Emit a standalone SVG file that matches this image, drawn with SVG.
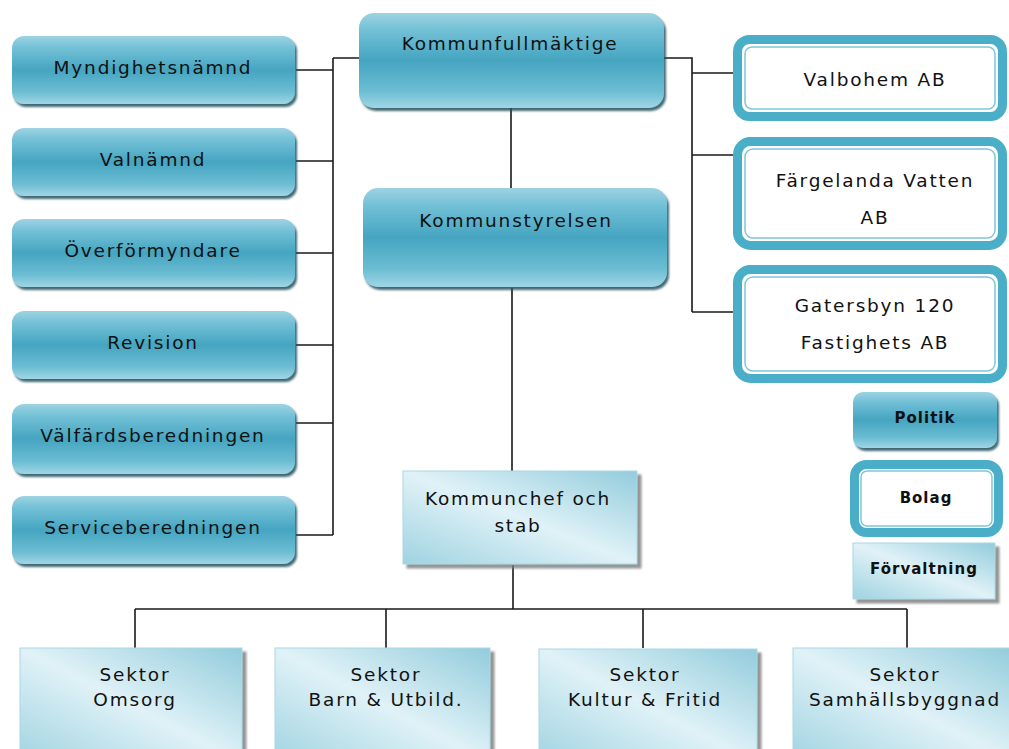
<svg xmlns="http://www.w3.org/2000/svg" width="1009" height="749" viewBox="0 0 1009 749">
<defs>
<linearGradient id="teal" x1="0" y1="0" x2="0" y2="1">
<stop offset="0" stop-color="#9dd3e2"/>
<stop offset="0.18" stop-color="#72c0d6"/>
<stop offset="0.5" stop-color="#45a5c1"/>
<stop offset="0.82" stop-color="#6cbdd3"/>
<stop offset="1" stop-color="#a0d6e5"/>
</linearGradient>
<linearGradient id="light" x1="0" y1="1" x2="1" y2="0">
<stop offset="0" stop-color="#9fd3e1"/>
<stop offset="0.5" stop-color="#e0f2f7"/>
<stop offset="1" stop-color="#92ccdc"/>
</linearGradient>
<filter id="sh" x="-10%" y="-10%" width="130%" height="130%">
<feDropShadow dx="2" dy="3" stdDeviation="1.2" flood-color="#1e4f5c" flood-opacity="0.85"/>
</filter>
<filter id="shg" x="-10%" y="-10%" width="130%" height="130%">
<feDropShadow dx="4" dy="4" stdDeviation="1" flood-color="#7a7a7a" flood-opacity="0.8"/>
</filter>
</defs>
<style>
.t{fill:url(#teal);filter:url(#sh)}
.l{fill:url(#light);stroke:#a9d8e4;stroke-width:1;filter:url(#shg)}
.bo{fill:#fff;stroke:#4aaec8;stroke-width:9}
.bi{fill:none;stroke:#7fc6d8;stroke-width:1.5}
.c{fill:none;stroke:#1a1a1a;stroke-width:1.6}
text{font-family:"DejaVu Sans","Liberation Sans",sans-serif;font-size:18.5px;fill:#111;text-anchor:middle;letter-spacing:1.8px}
.lg{font-size:15px;font-weight:bold;letter-spacing:1px}
</style>
<rect width="1009" height="749" fill="#fff"/>
<g id="connectors">
<path class="c" d="M296 70H333M296 161H333M296 253H333M296 345H333M296 423H333M296 535H333M333 58V535M333 58H360"/>
<path class="c" d="M511 108V188M512 288V471M513 565V609M135 609H907M135 609V648M386 609V648M643 609V648M907 609V648"/>
<path class="c" d="M664 58H692V312M692 73H735M692 155H735M692 312H735"/>
</g>
<g id="myndighetsnamnd"><rect class="t" x="12" y="36" width="283" height="68" rx="12"/><text x="153" y="74">Myndighetsnämnd</text></g>
<g id="valnamnd"><rect class="t" x="12" y="128" width="283" height="68" rx="12"/><text x="153" y="166">Valnämnd</text></g>
<g id="overformyndare"><rect class="t" x="12" y="219" width="283" height="68" rx="12"/><text x="153" y="257">Överförmyndare</text></g>
<g id="revision"><rect class="t" x="12" y="311" width="283" height="68" rx="12"/><text x="153" y="349">Revision</text></g>
<g id="valfardsberedningen"><rect class="t" x="12" y="404" width="283" height="70" rx="12"/><text x="153" y="442">Välfärdsberedningen</text></g>
<g id="serviceberedningen"><rect class="t" x="12" y="496" width="283" height="68" rx="12"/><text x="153" y="534">Serviceberedningen</text></g>
<g id="kommunfullmaktige"><rect class="t" x="359" y="13" width="305" height="95" rx="15"/><text x="510" y="50">Kommunfullmäktige</text></g>
<g id="kommunstyrelsen"><rect class="t" x="363" y="188" width="304" height="99" rx="15"/><text x="516" y="227">Kommunstyrelsen</text></g>
<g id="valbohem"><rect class="bo" x="737.5" y="39.5" width="265" height="77" rx="12"/><rect class="bi" x="745" y="47" width="250" height="62" rx="7"/><text x="875" y="86">Valbohem AB</text></g>
<g id="fargelanda"><rect class="bo" x="737.5" y="141.5" width="265" height="104" rx="13"/><rect class="bi" x="745" y="149" width="250" height="89" rx="8"/><text x="875" y="187">Färgelanda Vatten</text><text x="875" y="224">AB</text></g>
<g id="gatersbyn"><rect class="bo" x="737.5" y="269.5" width="265" height="109" rx="13"/><rect class="bi" x="745" y="277" width="250" height="94" rx="8"/><text x="875" y="312">Gatersbyn 120</text><text x="875" y="349">Fastighets AB</text></g>
<g id="legend-politik"><rect class="t" x="853" y="392" width="144" height="56" rx="10"/><text class="lg" x="925" y="423">Politik</text></g>
<g id="legend-bolag"><rect class="bo" x="854.5" y="464.5" width="144" height="68" rx="12"/><rect class="bi" x="861" y="471" width="131" height="55" rx="6"/><text class="lg" x="926" y="503">Bolag</text></g>
<g id="legend-forvaltning"><rect class="l" x="853" y="543" width="142" height="56"/><text class="lg" x="924" y="574">Förvaltning</text></g>
<g id="kommunchef"><rect class="l" x="403" y="471" width="234" height="93"/><text x="518" y="505">Kommunchef och</text><text x="518" y="532">stab</text></g>
<g id="sektor-omsorg"><rect class="l" x="20" y="648" width="222" height="115"/><text x="135" y="681">Sektor</text><text x="135" y="706">Omsorg</text></g>
<g id="sektor-barn"><rect class="l" x="275" y="648" width="215" height="115"/><text x="386" y="681">Sektor</text><text x="386" y="706">Barn &amp; Utbild.</text></g>
<g id="sektor-kultur"><rect class="l" x="539" y="649" width="218" height="115"/><text x="645" y="681">Sektor</text><text x="645" y="706">Kultur &amp; Fritid</text></g>
<g id="sektor-samhall"><rect class="l" x="793" y="648" width="222" height="115"/><text x="905" y="681">Sektor</text><text x="905" y="706">Samhällsbyggnad</text></g>
</svg>
